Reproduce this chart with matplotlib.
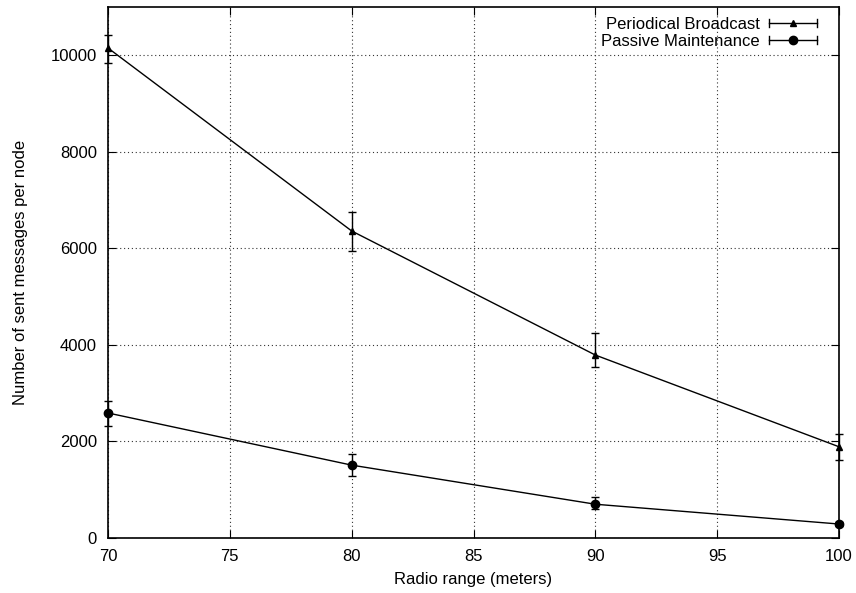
import numpy as np
import matplotlib.pyplot as plt
from matplotlib.lines import Line2D
from matplotlib.legend_handler import HandlerBase

plt.rcParams['font.family'] = ['Liberation Sans', 'DejaVu Sans']

# radio range (meters)
radio_range = [70, 80, 90, 100]

# Periodical Broadcast: mean, lower and upper error
pb_mean = [10150, 6360, 3790, 1890]
pb_low = [9850, 5940, 3540, 1620]
pb_high = [10410, 6750, 4240, 2150]

# Passive Maintenance
pm_mean = [2590, 1510, 700, 290]
pm_low = [2330, 1290, 610, 250]
pm_high = [2840, 1740, 840, 330]


class HErrHandler(HandlerBase):
    # gnuplot-like legend sample: horizontal bar with end caps and a marker
    def __init__(self, marker, ms):
        super().__init__()
        self.marker = marker
        self.ms = ms

    def create_artists(self, legend, orig_handle, xdescent, ydescent,
                       width, height, fontsize, trans):
        y = height / 2 - ydescent
        x0 = -xdescent
        x1 = x0 + width
        line = Line2D([x0, x1], [y, y], color='black', lw=1)
        caps = Line2D([x0, x0, np.nan, x1, x1], [y - 3, y + 3, np.nan, y - 3, y + 3],
                      color='black', lw=1)
        mk = Line2D([(x0 + x1) / 2], [y], marker=self.marker, markersize=self.ms,
                    color='black', linestyle='none')
        for a in (line, caps, mk):
            a.set_transform(trans)
        return [line, caps, mk]


fig = plt.figure(figsize=(8.56, 5.93), dpi=100)
ax = fig.add_axes([0.1262, 0.0927, 0.854, 0.8955])

pb_err = [np.array(pb_mean) - np.array(pb_low), np.array(pb_high) - np.array(pb_mean)]
pm_err = [np.array(pm_mean) - np.array(pm_low), np.array(pm_high) - np.array(pm_mean)]

h1 = ax.errorbar(radio_range, pb_mean, yerr=pb_err, color='black', marker='^', markersize=5,
                 linewidth=1, elinewidth=1, capsize=3, capthick=1, label='Periodical Broadcast',
                 clip_on=False, zorder=3)
h2 = ax.errorbar(radio_range, pm_mean, yerr=pm_err, color='black', marker='o', markersize=6,
                 linewidth=1, elinewidth=1, capsize=3, capthick=1, label='Passive Maintenance',
                 clip_on=False, zorder=3)

ax.set_xlim(70, 100)
ax.set_ylim(0, 11000)
ax.set_xticks([70, 75, 80, 85, 90, 95, 100])
ax.set_yticks([0, 2000, 4000, 6000, 8000, 10000])
ax.grid(True, linestyle=(0, (1, 2.5)), color='#333333', linewidth=0.8)
ax.tick_params(direction='in', top=True, right=True, length=6, labelsize=12, pad=8)
for s in ax.spines.values():
    s.set_linewidth(1.2)

ax.set_xlabel('Radio range (meters)', fontsize=12, labelpad=6)
ax.set_ylabel('Number of sent messages per node', fontsize=12, labelpad=16)

leg = ax.legend(handles=[h1, h2], loc='upper right', frameon=False, fontsize=12,
                markerfirst=False, handlelength=2.9, handletextpad=0.55,
                borderaxespad=0.5, borderpad=0.1, labelspacing=0.1,
                handler_map={h1: HErrHandler('^', 5), h2: HErrHandler('o', 6)},
                bbox_to_anchor=(0.984, 1.0))

fig.savefig('out.png', dpi=100)
